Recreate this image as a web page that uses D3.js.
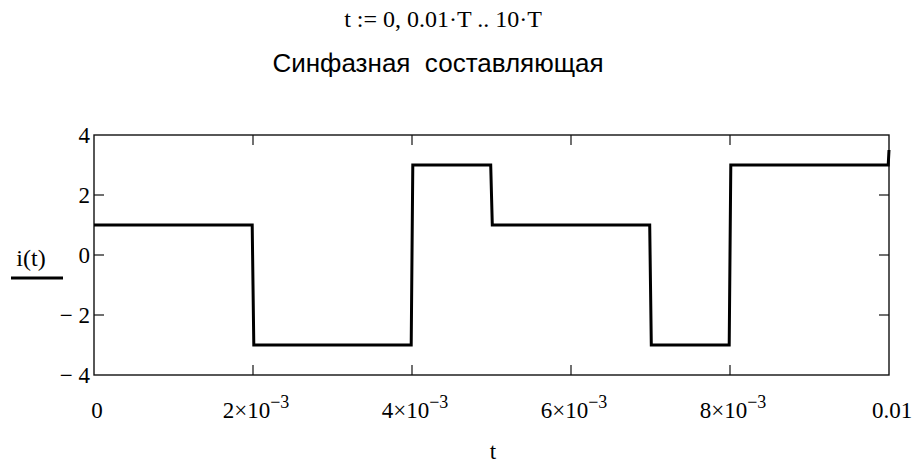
<!DOCTYPE html>
<html>
<head>
<meta charset="utf-8">
<script src="https://cdn.jsdelivr.net/npm/d3@7"></script>
<style>
  html, body { margin: 0; padding: 0; background: #fff; }
  svg { display: block; }
  .serif { font-family: "Liberation Serif", "Times New Roman", serif; }
  .sans { font-family: "Liberation Sans", Arial, sans-serif; white-space: pre; }
</style>
</head>
<body>
<svg id="chart" width="916" height="465"></svg>
<script>
// Sampled current i(t): polyline vertices (time in s, current)
const tPoints = [0, 0.00199, 0.002, 0.00201, 0.00399, 0.004, 0.00401, 0.00499, 0.005, 0.00501,
                 0.00699, 0.007, 0.00701, 0.00799, 0.008, 0.00801, 0.00999, 0.01];
const iPoints = [1, 1, -1, -3, -3, 0, 3, 3, 2, 1,
                 1, -1, -3, -3, 0, 3, 3, 3.5];

// Axis ticks and labels
const xTickValues = [0, 0.002, 0.004, 0.006, 0.008, 0.01];
const xTickBase   = ["0", "2×10", "4×10", "6×10", "8×10", "0.01"];
const xTickExp    = ["", "−3", "−3", "−3", "−3", ""];
const yTickValues = [-4, -2, 0, 2, 4];
const yTickLabels = ["− 4", "− 2", "0", "2", "4"];

const rangeLine = "t := 0, 0.01·T .. 10·T";
const chartTitle = "Синфазная  составляющая";

const svg = d3.select("#chart");
const plotL = 94, plotR = 889, plotT = 135, plotB = 375;

const x = d3.scaleLinear().domain([0, 0.01]).range([plotL, plotR]);
const y = d3.scaleLinear().domain([-4, 4]).range([plotB, plotT]);

// Header lines
svg.append("text").attr("class", "serif")
  .attr("x", 443).attr("y", 27).attr("text-anchor", "middle")
  .attr("font-size", 24).attr("fill", "#000").text(rangeLine);
svg.append("text").attr("class", "sans")
  .attr("x", 438).attr("y", 72).attr("text-anchor", "middle")
  .attr("font-size", 26).attr("fill", "#000").text(chartTitle);

// Inner ticks on all four sides
const innerY = yTickValues.filter(v => v > -4 && v < 4);
const innerX = xTickValues.filter(v => v > 0 && v < 0.01);
const tickLen = 10;
const g = svg.append("g").attr("stroke", "#111").attr("stroke-width", 1.2);
g.selectAll("line.yl").data(innerY).join("line")
  .attr("x1", plotL).attr("x2", plotL + tickLen).attr("y1", d => y(d)).attr("y2", d => y(d));
g.selectAll("line.yr").data(innerY).join("line")
  .attr("x1", plotR).attr("x2", plotR - tickLen).attr("y1", d => y(d)).attr("y2", d => y(d));
g.selectAll("line.xb").data(innerX).join("line")
  .attr("x1", d => x(d)).attr("x2", d => x(d)).attr("y1", plotB).attr("y2", plotB - tickLen);
g.selectAll("line.xt").data(innerX).join("line")
  .attr("x1", d => x(d)).attr("x2", d => x(d)).attr("y1", plotT).attr("y2", plotT + tickLen);

// Frame
svg.append("rect").attr("x", plotL).attr("y", plotT)
  .attr("width", plotR - plotL).attr("height", plotB - plotT)
  .attr("fill", "none").attr("stroke", "#111").attr("stroke-width", 1.4);

// Y tick labels
svg.selectAll("text.ylab").data(yTickValues).join("text")
  .attr("class", "serif").attr("x", plotL - 4).attr("y", d => y(d) + 8)
  .attr("text-anchor", "end").attr("font-size", 23).attr("fill", "#000")
  .text((d, i) => yTickLabels[i]);

// X tick labels with superscript exponents
const xl = svg.selectAll("text.xlab").data(xTickValues).join("text")
  .attr("class", "serif").attr("x", d => x(d) + 3).attr("y", 418)
  .attr("text-anchor", "middle").attr("font-size", 23).attr("fill", "#000");
xl.append("tspan").text((d, i) => xTickBase[i]);
xl.append("tspan").attr("dy", -10).attr("font-size", 18).text((d, i) => xTickExp[i]);

// Axis titles
svg.append("text").attr("class", "serif").attr("x", 493).attr("y", 459)
  .attr("text-anchor", "middle").attr("font-size", 23).attr("fill", "#000").text("t");
svg.append("text").attr("class", "serif").attr("x", 31).attr("y", 266)
  .attr("text-anchor", "middle").attr("font-size", 24).attr("fill", "#000").text("i(t)");
svg.append("line").attr("x1", 11).attr("x2", 63).attr("y1", 278).attr("y2", 278)
  .attr("stroke", "#000").attr("stroke-width", 3);

// Waveform
const pts = tPoints.map((t, i) => [t, iPoints[i]]);
svg.append("path").datum(pts)
  .attr("fill", "none").attr("stroke", "#000").attr("stroke-width", 3)
  .attr("stroke-linejoin", "miter")
  .attr("d", d3.line().x(d => x(d[0])).y(d => y(d[1])));
</script>
</body>
</html>
